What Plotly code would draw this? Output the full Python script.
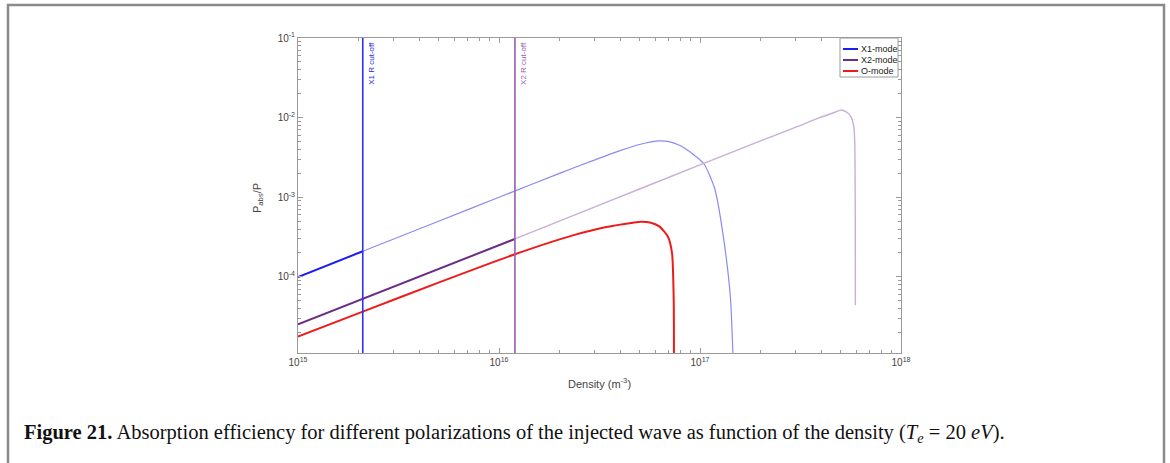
import math
import plotly.graph_objects as go

# ---- data -------------------------------------------------------------
# electron density (m^-3) and absorbed power fraction for each polarization
x1_density = [1e15, 2.1e15, 5e15, 1e16, 2e16, 3e16, 4e16, 5e16, 6.3e16, 7e16,
              7.9e16, 9.2e16, 1.05e17, 1.18e17, 1.22e17, 1.30e17, 1.37e17,
              1.42e17, 1.46e17]
x1_pabs = [1.0e-4, 2.1e-4, 5.0e-4, 1.0e-3, 2.0e-3, 2.95e-3, 3.85e-3, 4.6e-3,
           5.1e-3, 5.0e-3, 4.5e-3, 3.5e-3, 2.6e-3, 1.32e-3, 9.2e-4, 3.5e-4,
           1.3e-4, 5.1e-5, 1.0e-5]

x2_density = [1e15, 2.1e15, 5e15, 1.2e16, 3e16, 1e17, 2e17, 3e17, 3.94e17,
              4.7e17, 5.05e17, 5.4e17, 5.66e17, 5.83e17, 5.89e17, 5.92e17, 5.93e17]
x2_pabs = [2.55e-5, 5.35e-5, 1.28e-4, 3.0e-4, 7.6e-4, 2.55e-3, 5.1e-3, 7.6e-3,
           1.0e-2, 1.17e-2, 1.25e-2, 1.16e-2, 1.01e-2, 7.5e-3, 4.7e-3, 8e-4, 4.4e-5]

o_density = [1e15, 2.1e15, 5e15, 1.2e16, 2.33e16, 3.42e16, 4.64e16, 5.1e16,
             5.7e16, 6.3e16, 6.93e16, 7.26e16, 7.4e16, 7.42e16]
o_pabs = [1.78e-5, 3.67e-5, 8.5e-5, 1.93e-4, 3.33e-4, 4.24e-4, 4.8e-4, 4.94e-4,
          4.8e-4, 4.28e-4, 3.2e-4, 1.98e-4, 5.1e-5, 1.0e-5]

# right-hand cut-off densities
x1_cutoff = 2.1e15
x2_cutoff = 1.2e16

x_tickvals = [1e15, 1e16, 1e17, 1e18]
x_ticktext = ["10<sup>15</sup>", "10<sup>16</sup>", "10<sup>17</sup>", "10<sup>18</sup>"]
y_tickvals = [1e-4, 1e-3, 1e-2, 1e-1]
y_ticktext = ["10<sup>-4</sup>", "10<sup>-3</sup>", "10<sup>-2</sup>", "10<sup>-1</sup>"]

y_lo, y_hi = 1.11e-5, 1e-1

# ---- styling ----------------------------------------------------------
W, H = 1170, 463
L, R, T, B = 298, 901, 38, 353          # plot area in pixels
BLUE, BLUE_LIGHT = "#1c1cf5", "#8a8af2"
PURPLE, PURPLE_LIGHT, PURPLE_LINE = "#6b2c86", "#c9aed8", "#9a5cab"
RED = "#ee1b1b"
AXIS = "#9a9a9a"
SANS = "Liberation Sans, Arial, sans-serif"


def px(xp):
    return (xp - L) / (R - L)


def py(yp):
    return (B - yp) / (B - T)


def split(xs, ys, cut):
    inner = [(x, y) for x, y in zip(xs, ys) if x <= cut]
    outer = [(x, y) for x, y in zip(xs, ys) if x >= cut]
    return ([p[0] for p in inner], [p[1] for p in inner],
            [p[0] for p in outer], [p[1] for p in outer])


fig = go.Figure()

# X1 / X2 beyond their cut-off: faint
x1_in_x, x1_in_y, x1_out_x, x1_out_y = split(x1_density, x1_pabs, x1_cutoff)
x2_in_x, x2_in_y, x2_out_x, x2_out_y = split(x2_density, x2_pabs, x2_cutoff)

fig.add_trace(go.Scatter(x=x1_out_x, y=x1_out_y, mode="lines",
                         line=dict(color=BLUE_LIGHT, width=1.2, shape="spline", smoothing=0.6),
                         showlegend=False))
fig.add_trace(go.Scatter(x=x2_out_x, y=x2_out_y, mode="lines",
                         line=dict(color=PURPLE_LIGHT, width=1.4, shape="spline", smoothing=0.6),
                         showlegend=False))

# accessible part of each mode
fig.add_trace(go.Scatter(x=x1_in_x, y=x1_in_y, mode="lines", name="X1-mode",
                         line=dict(color=BLUE, width=2)))
fig.add_trace(go.Scatter(x=x2_in_x, y=x2_in_y, mode="lines", name="X2-mode",
                         line=dict(color=PURPLE, width=2)))
fig.add_trace(go.Scatter(x=o_density, y=o_pabs, mode="lines", name="O-mode",
                         line=dict(color=RED, width=2, shape="spline", smoothing=0.6)))

# cut-off markers
fig.add_trace(go.Scatter(x=[x1_cutoff, x1_cutoff], y=[y_lo, y_hi], mode="lines",
                         line=dict(color="#3030f0", width=1.6), showlegend=False))
fig.add_trace(go.Scatter(x=[x2_cutoff, x2_cutoff], y=[y_lo, y_hi], mode="lines",
                         line=dict(color=PURPLE_LINE, width=1.6), showlegend=False))

annotations = [
    dict(x=math.log10(x1_cutoff), y=1, xref="x", yref="paper", text="X1 R cut-off",
         textangle=-90, xanchor="left", yanchor="top", xshift=2, yshift=-2,
         showarrow=False, font=dict(family=SANS, size=8, color="#2a2ae0")),
    dict(x=math.log10(x2_cutoff), y=1, xref="x", yref="paper", text="X2 R cut-off",
         textangle=-90, xanchor="left", yanchor="top", xshift=2, yshift=-2,
         showarrow=False, font=dict(family=SANS, size=8, color=PURPLE_LINE)),
    dict(x=px(258), y=py(198), xref="paper", yref="paper",
         text="P<sub>abs</sub>/P", textangle=-90, showarrow=False,
         xanchor="center", yanchor="middle",
         font=dict(family=SANS, size=11, color="#444")),
    dict(x=0.5, y=py(383), xref="paper", yref="paper",
         text="Density (m<sup>-3</sup>)", showarrow=False,
         xanchor="center", yanchor="middle",
         font=dict(family=SANS, size=11, color="#444")),
    dict(x=px(22), y=py(433), xref="paper", yref="paper", xanchor="left", yanchor="middle",
         text="<b>Figure 21.</b> Absorption efficiency for different polarizations of the "
              "injected wave as function of the density (<i>T<sub>e</sub></i> = 20 <i>eV</i>).",
         showarrow=False, font=dict(family="Liberation Serif, serif", size=20.5, color="#111")),
]

# legend box (top right of the axes)
leg_items = [("X1-mode", BLUE), ("X2-mode", PURPLE), ("O-mode", RED)]
shapes = [dict(type="rect", xref="paper", yref="paper", x0=px(840), x1=px(898),
               y0=py(77), y1=py(38), line=dict(color=AXIS, width=1), fillcolor="white",
               layer="above")]
for i, (lab, col) in enumerate(leg_items):
    yc = 49 + i * 11
    shapes.append(dict(type="line", xref="paper", yref="paper", x0=px(843), x1=px(858),
                       y0=py(yc), y1=py(yc), line=dict(color=col, width=2), layer="above"))
    annotations.append(dict(x=px(859), y=py(yc), xref="paper", yref="paper", text=lab,
                            xanchor="left", yanchor="middle", showarrow=False,
                            font=dict(family=SANS, size=9, color="#222")))

# page frame
shapes.append(dict(type="path", xref="paper", yref="paper",
                   path=f"M {px(8)} {py(H + 10)} L {px(8)} {py(5)} L {px(1164)} {py(5)} L {px(1164)} {py(H + 10)}",
                   line=dict(color="#8a8a8a", width=2.5), layer="above"))

minor_x = [m * 10 ** e for e in (15, 16, 17) for m in range(2, 10)]
minor_y = [m * 10 ** e for e in (-5, -4, -3, -2) for m in range(2, 10)]
minor_y = [v for v in minor_y if v > y_lo]

axis_common = dict(type="log", showgrid=False, zeroline=False, showline=True,
                   linecolor=AXIS, linewidth=1, mirror="allticks", ticks="inside",
                   ticklen=5, tickcolor=AXIS, tickmode="array",
                   tickfont=dict(family=SANS, size=10, color="#444"))

fig.update_layout(
    width=W, height=H,
    margin=dict(l=L, r=W - R, t=T, b=H - B, autoexpand=False),
    paper_bgcolor="white", plot_bgcolor="white",
    showlegend=False,
    xaxis=dict(**axis_common, range=[15, 18], tickvals=x_tickvals, ticktext=x_ticktext,
               minor=dict(tickmode="array", tickvals=minor_x, ticks="inside",
                          ticklen=3, tickcolor=AXIS)),
    yaxis=dict(**axis_common, range=[math.log10(y_lo), -1], tickvals=y_tickvals,
               ticktext=y_ticktext,
               minor=dict(tickmode="array", tickvals=minor_y, ticks="inside",
                          ticklen=3, tickcolor=AXIS)),
    annotations=annotations,
    shapes=shapes,
)

fig.write_html("out.html")
